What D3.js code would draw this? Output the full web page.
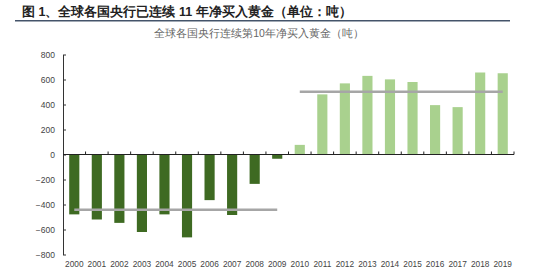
<!DOCTYPE html>
<html>
<head>
<meta charset="utf-8">
<script src="https://cdn.jsdelivr.net/npm/d3@7"></script>
<style>
  body { margin: 0; background: #fff; }
  .chart text { font-family: "Liberation Sans", Arial, sans-serif; }
  .title { font-family: "Noto Sans CJK SC", sans-serif; font-weight: bold; }
  .subtitle { font-family: "Noto Sans CJK SC", sans-serif; }
</style>
</head>
<body>
<div class="chart"></div>
<script>
const years = ["2000","2001","2002","2003","2004","2005","2006","2007","2008","2009",
               "2010","2011","2012","2013","2014","2015","2016","2017","2018","2019"];
const netBuying = [-479, -520, -547, -620, -479, -663, -365, -484, -235, -34,
                   77, 481, 569, 629, 601, 580, 395, 379, 656, 650];
const yTicks = [-800, -600, -400, -200, 0, 200, 400, 600, 800];
// two decades, gray line = average of each
const periods = [years.slice(0, 10), years.slice(10)];

const data = years.map((y, i) => ({year: y, value: netBuying[i]}));

const width = 551, height = 280;

const svg = d3.select(".chart")
    .append("svg")
    .attr("width", width)
    .attr("height", height);

// header
svg.append("text")
    .classed("title", true)
    .attr("x", 22)
    .attr("y", 16)
    .attr("font-size", 12.5)
    .attr("fill", "#222")
    .text("图 1、全球各国央行已连续 11 年净买入黄金（单位：吨）");

svg.append("rect")
    .attr("x", 15)
    .attr("y", 20)
    .attr("width", 495)
    .attr("height", 1.5)
    .attr("fill", "#44546a");

svg.append("text")
    .classed("subtitle", true)
    .attr("x", 259)
    .attr("y", 37)
    .attr("text-anchor", "middle")
    .attr("font-size", 10.5)
    .attr("fill", "#666")
    .text("全球各国央行连续第10年净买入黄金（吨）");

const xScale = d3.scaleBand()
    .domain(years)
    .range([63, 514])
    .padding(0);

const yScale = d3.scaleLinear()
    .domain([-800, 800])
    .range([254.5, 54.5]);

const barW = xScale.bandwidth() * 0.45;

// bars
svg.selectAll(".bars")
    .data(data)
    .join("rect")
    .classed("bars", true)
    .attr("x", d => xScale(d.year) + (xScale.bandwidth() - barW) / 2)
    .attr("y", d => yScale(Math.max(0, d.value)))
    .attr("width", barW)
    .attr("height", d => Math.abs(yScale(d.value) - yScale(0)))
    .attr("fill", d => d.value < 0 ? "#3e6a22" : "#a9d18e");

// average lines
periods.forEach(p => {
    const avg = d3.mean(data.filter(d => p.includes(d.year)), d => d.value);
    svg.append("line")
        .attr("x1", xScale(p[0]) + xScale.bandwidth() / 2)
        .attr("x2", xScale(p[p.length - 1]) + xScale.bandwidth() / 2)
        .attr("y1", yScale(avg))
        .attr("y2", yScale(avg))
        .attr("stroke", "#a6a6a6")
        .attr("stroke-width", 2.5);
});

// y axis
const yAxis = svg.append("g")
    .attr("transform", "translate(63,0)")
    .call(d3.axisLeft(yScale).tickValues(yTicks).tickSize(-3).tickPadding(8).tickSizeOuter(0));
yAxis.select(".domain").attr("stroke", "#333");
yAxis.selectAll(".tick line").attr("stroke", "#333");
yAxis.selectAll("text").attr("font-size", 8.5).attr("fill", "#444");

// zero line with ticks between categories
svg.append("line")
    .attr("x1", 63)
    .attr("x2", 514)
    .attr("y1", yScale(0))
    .attr("y2", yScale(0))
    .attr("stroke", "#222")
    .attr("stroke-width", 1);

svg.selectAll(".xtick")
    .data(years.slice(1).concat(["end"]))
    .join("line")
    .classed("xtick", true)
    .attr("x1", d => d === "end" ? 514 : xScale(d))
    .attr("x2", d => d === "end" ? 514 : xScale(d))
    .attr("y1", yScale(0))
    .attr("y2", yScale(0) - 3)
    .attr("stroke", "#222");

// year labels along the bottom
const xAxis = svg.append("g")
    .attr("transform", `translate(0,${yScale(-800) + 3})`)
    .call(d3.axisBottom(xScale).tickSize(0).tickPadding(4));
xAxis.select(".domain").remove();
xAxis.selectAll("text").attr("font-size", 8.3).attr("fill", "#444");
</script>
</body>
</html>
